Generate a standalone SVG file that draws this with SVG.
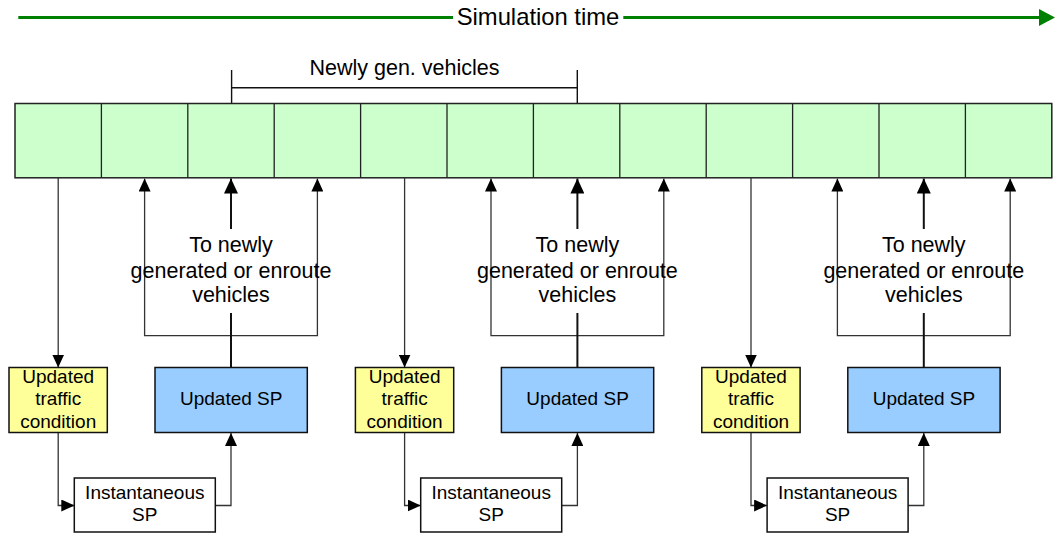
<svg xmlns="http://www.w3.org/2000/svg" width="1056" height="533" viewBox="0 0 1056 533">
<defs>
<style>
text{font-family:"Liberation Sans",Arial,sans-serif;fill:#000;text-anchor:middle}
.ln{fill:none;stroke:#333;stroke-width:1.3}
.lnb{fill:none;stroke:#111;stroke-width:2}
.box{stroke:#111;stroke-width:1.5}
.yel{fill:#FFFF99}
.blu{fill:#99CCFF}
.wht{fill:#FFFFFF}
.cell{fill:#CCFFCC;stroke:#222;stroke-width:1.5}
.t19{font-size:19px}
.t21{font-size:21.5px}
</style>
<marker id="ah" markerUnits="userSpaceOnUse" markerWidth="13" markerHeight="12" refX="13" refY="6" orient="auto"><path d="M0,0 L13,6 L0,12 z" fill="#000"/></marker>
<marker id="ahb" markerUnits="userSpaceOnUse" markerWidth="15" markerHeight="14" refX="15" refY="7" orient="auto"><path d="M0,0 L15,7 L0,14 z" fill="#000"/></marker>
<marker id="ahg" markerUnits="userSpaceOnUse" markerWidth="16" markerHeight="17" refX="1" refY="8.5" orient="auto"><path d="M0,0 L16,8.5 L0,17 z" fill="#008000"/></marker>
</defs>

<g id="timeline">
<line x1="18.3" y1="17.5" x2="453" y2="17.5" stroke="#008000" stroke-width="3"/>
<line x1="623.3" y1="17.5" x2="1040" y2="17.5" stroke="#008000" stroke-width="3" marker-end="url(#ahg)"/>
<text x="538" y="25" style="font-size:23.8px">Simulation time</text>
</g>

<g id="newly-gen-bracket">
<path d="M231.6,70 V104 M231.6,87.7 H577.3 M577.3,70 V104" fill="none" stroke="#111" stroke-width="1.4"/>
<text x="404.5" y="75" class="t21">Newly gen. vehicles</text>
</g>

<g id="time-slots">
<rect class="cell" x="15" y="103.5" width="1036.8" height="74.3"/>
<path d="M101.4,103.5V177.8 M187.8,103.5V177.8 M274.2,103.5V177.8 M360.6,103.5V177.8 M447,103.5V177.8 M533.4,103.5V177.8 M619.8,103.5V177.8 M706.2,103.5V177.8 M792.6,103.5V177.8 M879,103.5V177.8 M965.4,103.5V177.8" stroke="#222" stroke-width="1.3" fill="none"/>
</g>

<g id="connectors">
<g id="connectors-1">
<line class="ln" x1="58.2" y1="178" x2="58.2" y2="367.5" marker-end="url(#ah)"/>
<path class="ln" d="M231,335.7 H144.6 V178.5" marker-end="url(#ah)"/>
<path class="ln" d="M231,335.7 H317.4 V178.5" marker-end="url(#ah)"/>
<line class="lnb" x1="231" y1="229" x2="231" y2="178.5" marker-end="url(#ahb)"/>
<line class="lnb" x1="231" y1="313" x2="231" y2="367.5"/>
<path class="ln" d="M58.2,432.5 V505.5 H74.3" marker-end="url(#ah)"/>
<path class="ln" d="M215.3,505.5 H231 V433" marker-end="url(#ah)"/>
</g>
<g id="connectors-2" transform="translate(346.4,0)">
<line class="ln" x1="58.2" y1="178" x2="58.2" y2="367.5" marker-end="url(#ah)"/>
<path class="ln" d="M231,335.7 H144.6 V178.5" marker-end="url(#ah)"/>
<path class="ln" d="M231,335.7 H317.4 V178.5" marker-end="url(#ah)"/>
<line class="lnb" x1="231" y1="229" x2="231" y2="178.5" marker-end="url(#ahb)"/>
<line class="lnb" x1="231" y1="313" x2="231" y2="367.5"/>
<path class="ln" d="M58.2,432.5 V505.5 H74.3" marker-end="url(#ah)"/>
<path class="ln" d="M215.3,505.5 H231 V433" marker-end="url(#ah)"/>
</g>
<g id="connectors-3" transform="translate(692.8,0)">
<line class="ln" x1="58.2" y1="178" x2="58.2" y2="367.5" marker-end="url(#ah)"/>
<path class="ln" d="M231,335.7 H144.6 V178.5" marker-end="url(#ah)"/>
<path class="ln" d="M231,335.7 H317.4 V178.5" marker-end="url(#ah)"/>
<line class="lnb" x1="231" y1="229" x2="231" y2="178.5" marker-end="url(#ahb)"/>
<line class="lnb" x1="231" y1="313" x2="231" y2="367.5"/>
<path class="ln" d="M58.2,432.5 V505.5 H74.3" marker-end="url(#ah)"/>
<path class="ln" d="M215.3,505.5 H231 V433" marker-end="url(#ah)"/>
</g>
</g>

<g id="label-1" class="t21"><text x="231" y="252.3">To newly</text><text x="231" y="278.3">generated or enroute</text><text x="231" y="302.3">vehicles</text></g>
<g id="label-2" class="t21" transform="translate(346.4,0)"><text x="231" y="252.3">To newly</text><text x="231" y="278.3">generated or enroute</text><text x="231" y="302.3">vehicles</text></g>
<g id="label-3" class="t21" transform="translate(692.8,0)"><text x="231" y="252.3">To newly</text><text x="231" y="278.3">generated or enroute</text><text x="231" y="302.3">vehicles</text></g>

<g id="traffic-1"><rect class="box yel" x="9" y="367.5" width="98.3" height="65"/><g class="t19"><text x="58.2" y="382.7">Updated</text><text x="58.2" y="405.3">traffic</text><text x="58.2" y="428">condition</text></g></g>
<g id="traffic-2" transform="translate(346.4,0)"><rect class="box yel" x="9" y="367.5" width="98.3" height="65"/><g class="t19"><text x="58.2" y="382.7">Updated</text><text x="58.2" y="405.3">traffic</text><text x="58.2" y="428">condition</text></g></g>
<g id="traffic-3" transform="translate(692.8,0)"><rect class="box yel" x="9" y="367.5" width="98.3" height="65"/><g class="t19"><text x="58.2" y="382.7">Updated</text><text x="58.2" y="405.3">traffic</text><text x="58.2" y="428">condition</text></g></g>

<g id="updated-sp-1"><rect class="box blu" x="155" y="367.5" width="152.3" height="65"/><text class="t19" x="231.2" y="405">Updated SP</text></g>
<g id="updated-sp-2" transform="translate(346.4,0)"><rect class="box blu" x="155" y="367.5" width="152.3" height="65"/><text class="t19" x="231.2" y="405">Updated SP</text></g>
<g id="updated-sp-3" transform="translate(692.8,0)"><rect class="box blu" x="155" y="367.5" width="152.3" height="65"/><text class="t19" x="231.2" y="405">Updated SP</text></g>

<g id="instant-sp-1"><rect class="box wht" x="74.3" y="478" width="141" height="54" stroke-width="1"/><g class="t19"><text x="144.8" y="499.3">Instantaneous</text><text x="144.8" y="520.7">SP</text></g></g>
<g id="instant-sp-2" transform="translate(346.4,0)"><rect class="box wht" x="74.3" y="478" width="141" height="54" stroke-width="1"/><g class="t19"><text x="144.8" y="499.3">Instantaneous</text><text x="144.8" y="520.7">SP</text></g></g>
<g id="instant-sp-3" transform="translate(692.8,0)"><rect class="box wht" x="74.3" y="478" width="141" height="54" stroke-width="1"/><g class="t19"><text x="144.8" y="499.3">Instantaneous</text><text x="144.8" y="520.7">SP</text></g></g>
</svg>
